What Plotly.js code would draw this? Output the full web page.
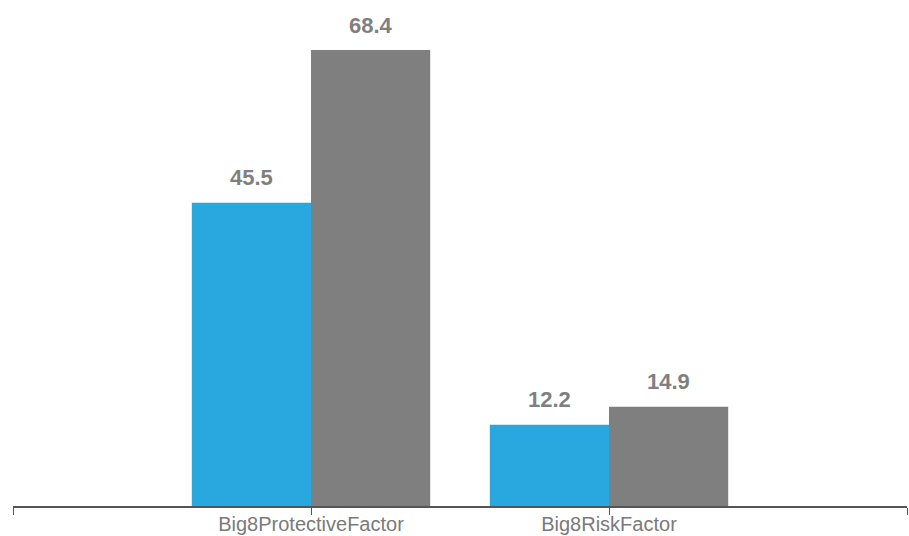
<!DOCTYPE html>
<html>
<head>
<meta charset="utf-8">
<script src="https://cdn.plot.ly/plotly-3.0.1.min.js"></script>
<style>html,body{margin:0;padding:0;background:#fff;}#chart{width:909px;height:536px;}</style>
</head>
<body>
<div id="chart"></div>
<script>
const categories = ["Big8ProtectiveFactor", "Big8RiskFactor"];
const seriesA = [45.5, 12.2];
const seriesB = [68.4, 14.9];
const colorA = "#29A8E0";
const colorB = "#7F7F7F";

const xIdx = categories.map((c, i) => i);

const traces = [
  {type: "bar", x: xIdx, y: seriesA, marker: {color: colorA}, hoverinfo: "none", name: "A"},
  {type: "bar", x: xIdx, y: seriesB, marker: {color: colorB}, hoverinfo: "none", name: "B"}
];

const annotations = [];
[seriesA, seriesB].forEach((s, k) => {
  s.forEach((v, i) => {
    annotations.push({
      x: i + (k === 0 ? -0.2 : 0.2), y: v, xref: "x", yref: "y",
      text: v.toFixed(1), showarrow: false, yanchor: "middle", yshift: 25,
      font: {family: "Liberation Sans, Arial, sans-serif", size: 22, color: "#7F7F7F", weight: "bold"}
    });
  });
});

const layout = {
  width: 909, height: 536,
  margin: {l: 13, r: 2, t: 0, b: 30},
  paper_bgcolor: "#fff", plot_bgcolor: "#fff",
  showlegend: false,
  barmode: "group", bargap: 0.2, bargroupgap: 0,
  xaxis: {
    type: "linear", range: [-1, 2],
    tickmode: "array", tickvals: [-1].concat(xIdx, [xIdx.length]),
    ticktext: [""].concat(categories, [""]),
    ticks: "outside", ticklen: 7, tickcolor: "#555", tickwidth: 1,
    ticklabelstandoff: -8,
    showline: true, linecolor: "#555", linewidth: 1.5,
    showgrid: false, zeroline: false,
    tickfont: {family: "Liberation Sans, Arial, sans-serif", size: 20, color: "#7a7a7a"}
  },
  yaxis: {range: [0, 75.9], visible: false, showgrid: false, zeroline: false, fixedrange: true},
  annotations: annotations
};

Plotly.newPlot("chart", traces, layout, {displayModeBar: false, staticPlot: true});
</script>
</body>
</html>
